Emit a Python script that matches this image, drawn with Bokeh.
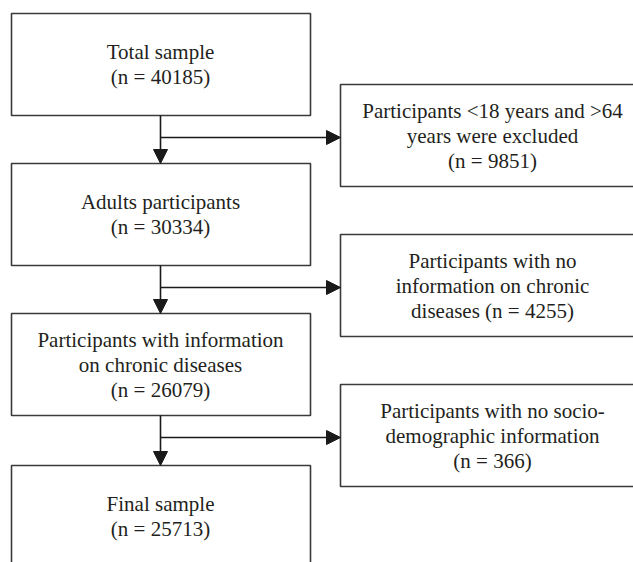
from bokeh.plotting import figure
from bokeh.models import Range1d, Arrow, NormalHead, ColumnDataSource
from bokeh.core.properties import value
from bokeh.embed import file_html
from bokeh.resources import INLINE

# ---- data ----
main_labels = ["Total sample", "Adults participants",
               "Participants with information\non chronic diseases", "Final sample"]
main_n = [40185, 30334, 26079, 25713]
excluded_templates = [
    "Participants <18 years and >64\nyears were excluded\n(n = {n})",
    "Participants with no\ninformation on chronic\ndiseases (n = {n})",
    "Participants with no socio-\ndemographic information\n(n = {n})",
]
excluded_n = [9851, 4255, 366]

# ---- layout (pixel-like data units, y grows downward) ----
W, H = 633, 562
LEFT_X0, LEFT_X1 = 11, 310
LEFT_CX = 160
RIGHT_X0, RIGHT_X1 = 340, 644
RIGHT_CX = 492
BOX_H = 102
left_tops = [13, 163, 313, 465]
LINE_SP = 25
FONT = "Liberation Serif"
FSIZE = "21px"
TEXT_COLOR = "#231f20"
BOX_COLOR = "#3a3a3a"

p = figure(width=W, height=H, output_backend="svg", toolbar_location=None,
           x_range=Range1d(0, W), y_range=Range1d(H, 0),
           min_border=0, border_fill_color="white")
p.axis.visible = False
p.grid.visible = False
p.outline_line_color = None

def add_text(lines, cx, cy, xs, ys, ts):
    n = len(lines)
    for i, ln in enumerate(lines):
        xs.append(cx)
        ys.append(cy + (i - (n - 1) / 2) * LINE_SP)
        ts.append(ln)

tx, ty, tt = [], [], []
lq = dict(left=[], right=[], top=[], bottom=[])
rq = dict(left=[], right=[], top=[], bottom=[])

for i, (lab, n) in enumerate(zip(main_labels, main_n)):
    top = left_tops[i]
    lq["left"].append(LEFT_X0); lq["right"].append(LEFT_X1)
    lq["top"].append(top); lq["bottom"].append(top + BOX_H)
    lines = lab.split("\n") + [f"(n = {n})"]
    add_text(lines, LEFT_CX, top + BOX_H / 2, tx, ty, tt)

branch_ys = []
for i, (tmpl, n) in enumerate(zip(excluded_templates, excluded_n)):
    by = left_tops[i] + BOX_H + 22
    branch_ys.append(by)
    rtop = by - 53
    rq["left"].append(RIGHT_X0); rq["right"].append(RIGHT_X1)
    rq["top"].append(rtop); rq["bottom"].append(rtop + BOX_H)
    add_text(tmpl.format(n=n).split("\n"), RIGHT_CX, rtop + BOX_H / 2, tx, ty, tt)

for q in (lq, rq):
    p.quad(source=ColumnDataSource(q), left="left", right="right", top="top",
           bottom="bottom", fill_alpha=0, line_color=BOX_COLOR, line_width=1.6)

p.text(source=ColumnDataSource(dict(x=tx, y=ty, t=tt)), x="x", y="y", text="t",
       text_align="center", text_baseline="middle", text_font=value(FONT),
       text_font_size=FSIZE, text_color=TEXT_COLOR)

for i in range(3):
    y0 = left_tops[i] + BOX_H
    y1 = left_tops[i + 1]
    p.add_layout(Arrow(x_start=LEFT_CX, y_start=y0, x_end=LEFT_CX, y_end=y1,
                       line_color="#1a1a1a", line_width=1.6,
                       end=NormalHead(size=14, fill_color="#1a1a1a",
                                      line_color="#1a1a1a", line_width=1)))
    by = branch_ys[i]
    p.add_layout(Arrow(x_start=LEFT_CX, y_start=by, x_end=RIGHT_X0, y_end=by,
                       line_color="#1a1a1a", line_width=1.6,
                       end=NormalHead(size=14, fill_color="#1a1a1a",
                                      line_color="#1a1a1a", line_width=1)))

open("out.html", "w").write(file_html(p, INLINE))
